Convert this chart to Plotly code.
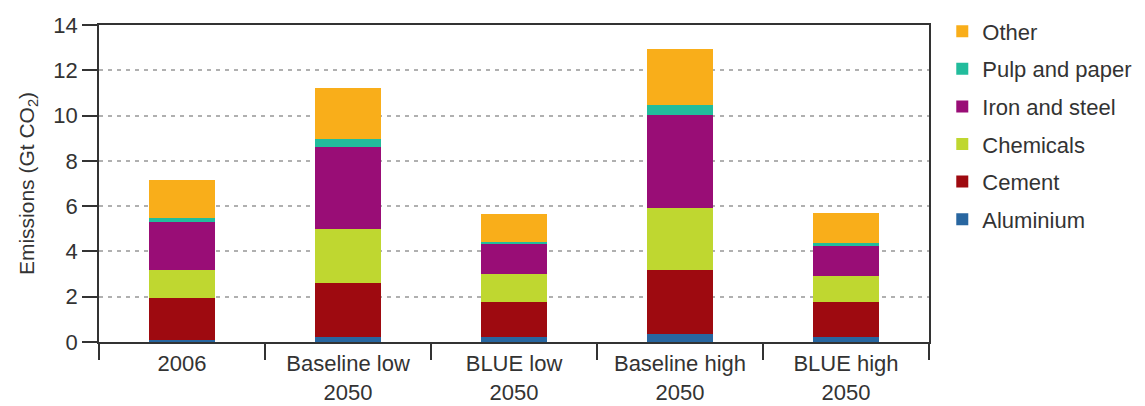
import plotly.graph_objects as go

categories = ["2006", "Baseline low<br>2050", "BLUE low<br>2050", "Baseline high<br>2050", "BLUE high<br>2050"]

aluminium = [0.09, 0.22, 0.22, 0.35, 0.22]
cement = [1.85, 2.38, 1.54, 2.83, 1.54]
chemicals = [1.24, 2.38, 1.24, 2.73, 1.15]
iron_steel = [2.11, 3.62, 1.32, 4.10, 1.32]
pulp_paper = [0.18, 0.35, 0.10, 0.44, 0.14]
other = [1.68, 2.25, 1.23, 2.47, 1.32]

series = [
    ("Aluminium", aluminium, "#2866A0"),
    ("Cement", cement, "#9E0A10"),
    ("Chemicals", chemicals, "#BFD730"),
    ("Iron and steel", iron_steel, "#990D76"),
    ("Pulp and paper", pulp_paper, "#22BC9C"),
    ("Other", other, "#F9AE1A"),
]

fig = go.Figure()
n = len(series)
for i, (name, vals, col) in enumerate(series):
    fig.add_trace(go.Bar(
        x=categories, y=vals, name=name, marker_color=col,
        marker_line_width=0, width=0.4, legendgroup=f"g{i}",
        legendrank=n - i,
    ))

axis_col = "#333333"
fnt = "Liberation Sans, Arial, sans-serif"
fig.update_layout(
    barmode="stack",
    width=1137, height=398,
    margin=dict(l=91, r=216, t=17, b=64, autoexpand=False),
    paper_bgcolor="white", plot_bgcolor="white",
    font=dict(family=fnt, size=22, color="#333333"),
    legend=dict(
        x=1.016, y=1.046, xanchor="left", yanchor="top",
        traceorder="grouped", tracegroupgap=6,
        font=dict(family=fnt, size=22, color="#333333"),
        itemclick=False, maxheight=1.0,
    ),
    xaxis=dict(
        showline=True, linecolor=axis_col, linewidth=1.5, mirror=True,
        ticks="outside", tickson="boundaries", ticklen=16, tickcolor=axis_col, tickwidth=1.5,
        showgrid=False, automargin=False, tickfont=dict(size=22),
        ticklabelstandoff=1,
    ),
    yaxis=dict(
        range=[0, 14], dtick=2, showline=True, linecolor=axis_col, linewidth=1.5, mirror=True,
        ticks="outside", ticklen=15, tickcolor=axis_col, tickwidth=1.5,
        showgrid=True, gridcolor="#b0b0b0", gridwidth=1.5, griddash="4px,5px",
        zeroline=False, automargin=False, tickfont=dict(size=22),
        title=dict(text="Emissions (Gt CO<sub>2</sub>)", standoff=13,
                   font=dict(family=fnt, size=21)),
    ),
)

fig.write_html("out.html")
